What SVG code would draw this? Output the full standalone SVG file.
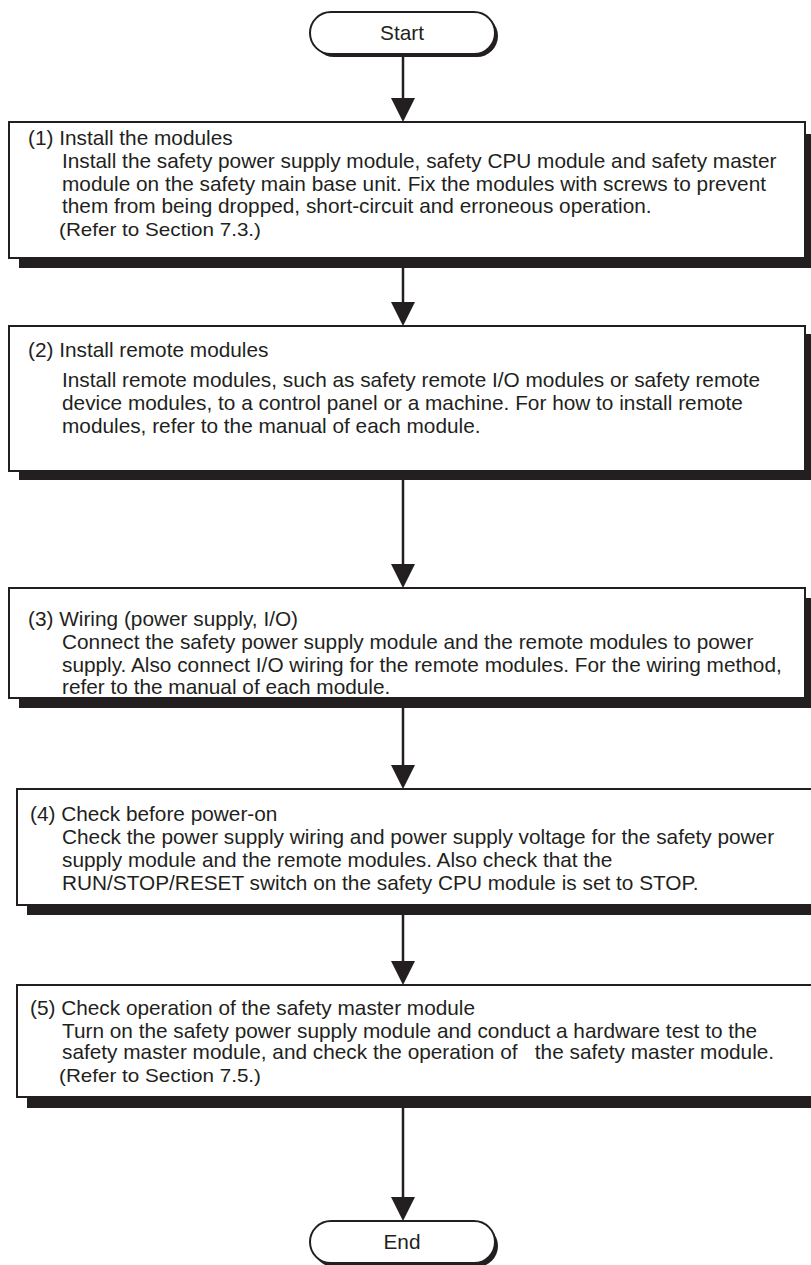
<svg xmlns="http://www.w3.org/2000/svg" width="811" height="1265" viewBox="0 0 811 1265">
<defs>
<style>
.t{font-family:"Liberation Sans",Arial,sans-serif;font-size:20.8px;fill:#231f20}
.r{font-size:19px}
.box{fill:#fff;stroke:#231f20;stroke-width:2}
.sh{fill:#231f20}
.ln{stroke:#231f20;stroke-width:2.5;fill:none}
.ah{fill:#231f20}
</style>
</defs>
<rect width="811" height="1265" fill="#fff"/>
<g id="connectors">
<line class="ln" x1="403" y1="57" x2="403" y2="100"/><polygon class="ah" points="391,98 415,98 403,122"/>
<line class="ln" x1="403" y1="268" x2="403" y2="304"/><polygon class="ah" points="391,302 415,302 403,326"/>
<line class="ln" x1="403" y1="480" x2="403" y2="566"/><polygon class="ah" points="391,564 415,564 403,588"/>
<line class="ln" x1="403" y1="708" x2="403" y2="767"/><polygon class="ah" points="391,765 415,765 403,789"/>
<line class="ln" x1="403" y1="915" x2="403" y2="963"/><polygon class="ah" points="391,961 415,961 403,985"/>
<line class="ln" x1="403" y1="1108" x2="403" y2="1199"/><polygon class="ah" points="391,1197 415,1197 403,1221"/>
</g>
<g id="start">
<rect class="sh" x="313" y="15" width="185" height="42" rx="21"/>
<rect class="box" x="310" y="12" width="185" height="42" rx="21"/>
<text class="t" x="402" y="40" text-anchor="middle">Start</text>
</g>
<g id="step1">
<rect class="sh" x="19" y="134" width="796" height="134"/>
<rect class="box" x="9" y="122" width="796" height="136"/>
<text class="t" x="28" y="145">(1) Install the modules</text>
<text class="t" x="62" y="168">Install the safety power supply module, safety CPU module and safety master</text>
<text class="t" x="62" y="191">module on the safety main base unit. Fix the modules with screws to prevent</text>
<text class="t" x="62" y="213">them from being dropped, short-circuit and erroneous operation.</text>
<text class="t r" x="59" y="236" textLength="202" lengthAdjust="spacingAndGlyphs">(Refer to Section 7.3.)</text>
</g>
<g id="step2">
<rect class="sh" x="19" y="334" width="796" height="146"/>
<rect class="box" x="9" y="326" width="796" height="145"/>
<text class="t" x="28" y="357">(2) Install remote modules</text>
<text class="t" x="62" y="387">Install remote modules, such as safety remote I/O modules or safety remote</text>
<text class="t" x="62" y="410">device modules, to a control panel or a machine. For how to install remote</text>
<text class="t" x="62" y="433">modules, refer to the manual of each module.</text>
</g>
<g id="step3">
<rect class="sh" x="19" y="598" width="796" height="110"/>
<rect class="box" x="9" y="588" width="796" height="110"/>
<text class="t" x="28" y="626">(3) Wiring (power supply, I/O)</text>
<text class="t" x="62" y="649">Connect the safety power supply module and the remote modules to power</text>
<text class="t" x="62" y="672">supply. Also connect I/O wiring for the remote modules. For the wiring method,</text>
<text class="t" x="62" y="694">refer to the manual of each module.</text>
</g>
<g id="step4">
<rect class="sh" x="27" y="799" width="800" height="116"/>
<rect class="box" x="17" y="789" width="810" height="116"/>
<text class="t" x="30" y="821">(4) Check before power-on</text>
<text class="t" x="62" y="844">Check the power supply wiring and power supply voltage for the safety power</text>
<text class="t" x="62" y="867">supply module and the remote modules. Also check that the</text>
<text class="t" x="62" y="890">RUN/STOP/RESET switch on the safety CPU module is set to STOP.</text>
</g>
<g id="step5">
<rect class="sh" x="27" y="995" width="800" height="113"/>
<rect class="box" x="17" y="985" width="810" height="112"/>
<text class="t" x="30" y="1015">(5) Check operation of the safety master module</text>
<text class="t" x="62" y="1038">Turn on the safety power supply module and conduct a hardware test to the</text>
<text class="t" x="62" y="1059" xml:space="preserve">safety master module, and check the operation of   the safety master module.</text>
<text class="t r" x="59" y="1082" textLength="202" lengthAdjust="spacingAndGlyphs">(Refer to Section 7.5.)</text>
</g>
<g id="end">
<rect class="sh" x="313" y="1225" width="185" height="42" rx="21"/>
<rect class="box" x="310" y="1221" width="185" height="42" rx="21"/>
<text class="t" x="402" y="1249" text-anchor="middle">End</text>
</g>
</svg>
